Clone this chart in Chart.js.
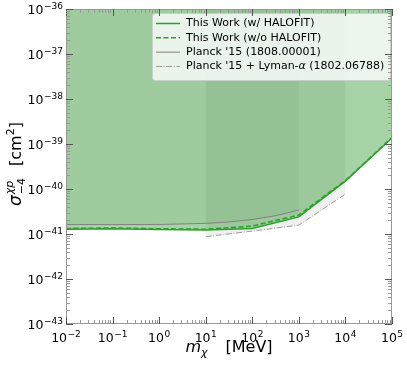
<!DOCTYPE html>
<html><head><meta charset="utf-8">
<script src="https://cdn.jsdelivr.net/npm/chart.js@4.4.1/dist/chart.umd.min.js"></script>
<style>html,body{margin:0;padding:0;background:#fff}#wrap{width:407px;height:368px}</style>
</head><body><div id="wrap"><canvas id="c" width="407" height="368"></canvas></div>
<script>
// ---- data ----
const massTicks = [1e-2, 1e-1, 1e0, 1e1, 1e2, 1e3, 1e4, 1e5];
const sigmaTicks = [1e-43, 1e-42, 1e-41, 1e-40, 1e-39, 1e-38, 1e-37, 1e-36];
const workMass = [1e-2, 1e-1, 1e0, 1e1, 1e2, 1e3, 1e4, 1e5];
const workHalofit = [1.27e-41, 1.3e-41, 1.26e-41, 1.23e-41, 1.33e-41, 2.4e-41, 1.5e-40, 1.36e-39];
const workNoHalofit = [1.33e-41, 1.36e-41, 1.31e-41, 1.28e-41, 1.5e-41, 2.65e-41, 1.55e-40, 1.4e-39];
const planckMass = [1e-2, 1e-1, 1e0, 1e1, 3.16e1, 1e2, 3.16e2, 1e3];
const planckSigma = [1.62e-41, 1.62e-41, 1.63e-41, 1.72e-41, 1.85e-41, 2.1e-41, 2.55e-41, 3.4e-41];
const lymanMass = [1e1, 1e2, 1e3, 1e4];
const lymanSigma = [8.7e-42, 1.16e-41, 1.58e-41, 7.7e-41];
const seriesLabels = ['This Work (w/ HALOFIT)', 'This Work (w/o HALOFIT)', "Planck '15 (1808.00001)", "Planck '15 + Lyman-α (1802.06788)"];

const pts = (xs, ys) => xs.map((x, i) => ({x: x, y: ys[i]}));
const GREEN = '#2ca02c';
const FONT = '"DejaVu Sans", sans-serif';

function expLabel(ctx, exp, x, y, align) {
  const base = '10', e = String(exp).replace('-', '\u2212');
  ctx.font = '12.5px ' + FONT;
  const wb = ctx.measureText(base).width;
  ctx.font = '9px ' + FONT;
  const we = ctx.measureText(e).width;
  const w = wb + we + 0.5;
  let x0 = align === 'right' ? x - w : x - w / 2;
  ctx.textAlign = 'left'; ctx.textBaseline = 'alphabetic'; ctx.fillStyle = '#000';
  ctx.font = '12.5px ' + FONT; ctx.fillText(base, x0, y);
  ctx.font = '9px ' + FONT; ctx.fillText(e, x0 + wb + 0.5, y - 5.5);
}

const axesPlugin = {
  id: 'axesPlugin',
  afterDatasetsDraw(chart) {
    const ctx = chart.ctx;
    // legend
    const lx = 152, ly = 13, lw = 238, lh = 67;
    ctx.save();
    ctx.beginPath();
    ctx.roundRect(lx + 0.5, ly + 0.5, lw, lh, 3);
    ctx.fillStyle = 'rgba(255,255,255,0.8)'; ctx.fill();
    ctx.strokeStyle = 'rgba(204,204,204,0.8)'; ctx.lineWidth = 1; ctx.stroke();
    chart.data.datasets.forEach((ds, i) => {
      const cy = 23.5 + i * 14.3;
      ctx.beginPath();
      ctx.setLineDash(ds.borderDash || []);
      ctx.strokeStyle = ds.borderColor; ctx.lineWidth = ds.borderWidth;
      ctx.moveTo(156, cy); ctx.lineTo(180, cy); ctx.stroke();
      ctx.setLineDash([]);
      ctx.fillStyle = '#000'; ctx.textBaseline = 'middle'; ctx.textAlign = 'left';
      const lab = ds.label;
      const k = lab.indexOf('α');
      ctx.font = '11px ' + FONT;
      if (k < 0) { ctx.fillText(lab, 186, cy); }
      else {
        const a = lab.slice(0, k), b = lab.slice(k + 1);
        ctx.fillText(a, 186, cy);
        let x = 186 + ctx.measureText(a).width;
        ctx.font = 'italic 11px ' + FONT; ctx.fillText('α', x, cy);
        x += ctx.measureText('α').width;
        ctx.font = '11px ' + FONT; ctx.fillText(b, x, cy);
      }
    });
    ctx.restore();
  },
  afterDraw(chart) {
    const ctx = chart.ctx, a = chart.chartArea, xs = chart.scales.x, ys = chart.scales.y;
    ctx.save();
    // frame
    ctx.strokeStyle = '#999'; ctx.lineWidth = 1;
    ctx.strokeRect(a.left + 0.5, a.top + 0.5, a.right - a.left - 1, a.bottom - a.top - 1);
    // x ticks
    for (let d = -2; d <= 5; d++) {
      for (let m = 1; m <= 9; m++) {
        const v = m * Math.pow(10, d);
        if (v > 1e5 * 1.0001) continue;
        const px = Math.round(xs.getPixelForValue(v)) + 0.5;
        const len = m === 1 ? 7 : 4;
        ctx.strokeStyle = m === 1 ? '#555' : '#999';
        ctx.beginPath();
        ctx.moveTo(px, a.bottom); ctx.lineTo(px, a.bottom - len);
        ctx.moveTo(px, a.top); ctx.lineTo(px, a.top + len);
        ctx.stroke();
      }
    }
    for (let d = -43; d <= -36; d++) {
      for (let m = 1; m <= 9; m++) {
        const v = m * Math.pow(10, d);
        if (d === -36 && m > 1) continue;
        const py = Math.round(ys.getPixelForValue(v)) + 0.5;
        const len = m === 1 ? 7 : 4;
        ctx.strokeStyle = m === 1 ? '#555' : '#999';
        ctx.beginPath();
        ctx.moveTo(a.left, py); ctx.lineTo(a.left + len, py);
        ctx.moveTo(a.right, py); ctx.lineTo(a.right - len, py);
        ctx.stroke();
      }
    }
    // tick labels
    massTicks.forEach(v => expLabel(ctx, Math.round(Math.log10(v)), xs.getPixelForValue(v), a.bottom + 18, 'center'));
    sigmaTicks.forEach(v => expLabel(ctx, Math.round(Math.log10(v)), a.left - 3, ys.getPixelForValue(v) + 5, 'right'));
    // x title
    ctx.fillStyle = '#000'; ctx.textBaseline = 'alphabetic'; ctx.textAlign = 'left';
    const f1 = 'italic 16px ' + FONT, f2 = 'italic 11px ' + FONT, f3 = '16px ' + FONT;
    ctx.font = f1; const wm = ctx.measureText('m').width;
    ctx.font = f2; const wc = ctx.measureText('χ').width;
    ctx.font = f3; const gap = 18; const wr = ctx.measureText('[MeV]').width;
    const tot = wm + wc + gap + wr;
    let x0 = (a.left + a.right) / 2 - tot / 2, by = 352;
    ctx.font = f1; ctx.fillText('m', x0, by);
    ctx.font = f2; ctx.fillText('χ', x0 + wm, by + 4);
    ctx.font = f3; ctx.fillText('[MeV]', x0 + wm + wc + gap, by);
    // y title
    ctx.translate(21, (a.top + a.bottom) / 2 - 2);
    ctx.rotate(-Math.PI / 2);
    const g1 = 'italic 17px ' + FONT, g2 = 'italic 11px ' + FONT, g3 = '11px ' + FONT, g4 = '16px ' + FONT;
    ctx.font = g1; const ws = ctx.measureText('σ').width;
    ctx.font = g2; const wsup = ctx.measureText('χp').width;
    ctx.font = g3; const wsub = ctx.measureText('\u22124').width;
    ctx.font = g4; const wcm = ctx.measureText('[cm').width, wb = ctx.measureText(']').width;
    ctx.font = g3; const w2 = ctx.measureText('2').width;
    const gap2 = 12;
    const t2 = ws + Math.max(wsup, wsub) + gap2 + wcm + w2 + wb;
    let x = -t2 / 2;
    ctx.font = g1; ctx.fillText('σ', x, 0); x += ws + 1;
    ctx.font = g2; ctx.fillText('χp', x, -8);
    ctx.font = g3; ctx.fillText('\u22124', x, 4);
    x += Math.max(wsup, wsub) + gap2;
    ctx.font = g4; ctx.fillText('[cm', x, 0); x += wcm;
    ctx.font = g3; ctx.fillText('2', x, -7); x += w2;
    ctx.font = g4; ctx.fillText(']', x, 0);
    ctx.restore();
  }
};

new Chart(document.getElementById('c'), {
  type: 'line',
  data: {
    datasets: [
      {label: seriesLabels[0], data: pts(workMass, workHalofit), borderColor: GREEN, borderWidth: 1.5,
       fill: 'end', backgroundColor: 'rgba(0,128,0,0.35)'},
      {label: seriesLabels[1], data: pts(workMass, workNoHalofit), borderColor: GREEN, borderWidth: 1.5,
       borderDash: [5, 2.5], fill: false},
      {label: seriesLabels[2], data: pts(planckMass, planckSigma), borderColor: '#808080', borderWidth: 1,
       fill: 'end', backgroundColor: 'rgba(100,100,100,0.07)'},
      {label: seriesLabels[3], data: pts(lymanMass, lymanSigma), borderColor: '#999999', borderWidth: 1,
       borderDash: [6, 1.6, 1, 1.6], fill: 'end', backgroundColor: 'rgba(100,100,100,0.1)'}
    ]
  },
  options: {
    responsive: false, animation: false,
    elements: {point: {radius: 0}, line: {tension: 0}},
    layout: {padding: {left: 66, right: 15, top: 9, bottom: 44}},
    scales: {
      x: {type: 'logarithmic', min: 1e-2, max: 1e5, display: false},
      y: {type: 'logarithmic', min: 1e-43, max: 1e-36, display: false}
    },
    plugins: {legend: {display: false}, tooltip: {enabled: false}, filler: {drawTime: 'beforeDatasetsDraw'}}
  },
  plugins: [axesPlugin]
});
</script></body></html>
